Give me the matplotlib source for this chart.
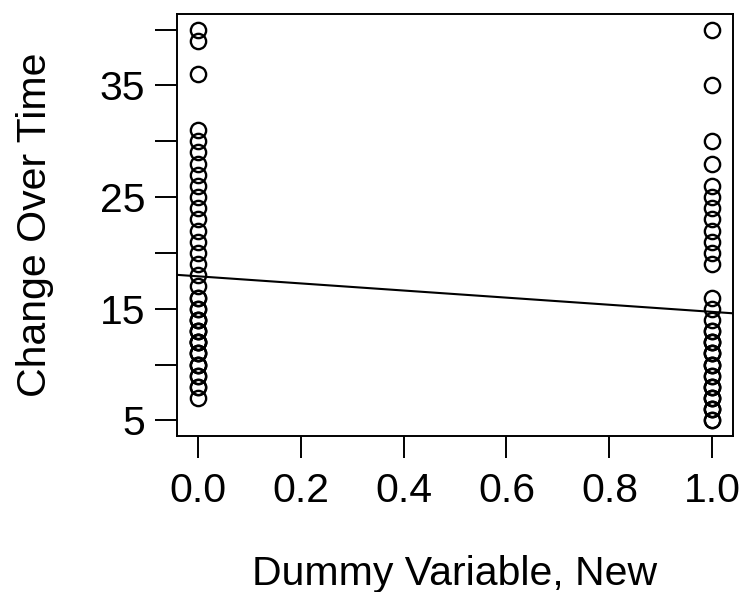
import numpy as np
import matplotlib
matplotlib.use("Agg")
import matplotlib.pyplot as plt

plt.rcParams['font.family'] = ['Liberation Sans', 'DejaVu Sans']

# Data: change over time for dummy = 0 and dummy = 1 (duplicates overlap)
group0_values = [40, 39, 36, 31, 30, 29, 28, 27, 26, 25, 24, 23, 22, 21, 20, 19,
                 18, 17, 16, 15, 14, 13, 12, 11, 10, 9, 8, 7,
                 8, 9, 10, 10, 11, 11, 12, 12, 13, 13, 14, 14, 15, 16, 12]
group1_values = [40, 35, 30, 28, 26, 25, 24, 23, 22, 21, 20, 19,
                 16, 15, 14, 13, 12, 11, 10, 9, 8, 7, 6, 5,
                 5, 6, 6, 7, 7, 8, 8, 9, 10, 10, 11, 11, 12, 12, 13]
dummy_levels = [0, 1]
x_ticks = [0.0, 0.2, 0.4, 0.6, 0.8, 1.0]
y_ticks = [5, 10, 15, 20, 25, 30, 35, 40]
y_ticklabels = ['5', '', '15', '', '25', '', '35', '']

x = np.array([dummy_levels[0]] * len(group0_values) + [dummy_levels[1]] * len(group1_values), dtype=float)
y = np.array(group0_values + group1_values, dtype=float)

fig = plt.figure(figsize=(7.41, 5.92), dpi=100)
ax = fig.add_axes([177 / 741, 1 - 436 / 592, (733 - 177) / 741, (436 - 14) / 592])

ax.plot(x, y, linestyle='none', marker='o', markersize=11, markerfacecolor='none',
        markeredgecolor='black', markeredgewidth=1.7)

slope, intercept = np.polyfit(x, y, 1)
xl = (-0.04, 1.04)
ax.set_xlim(*xl)
yr = (min(y), max(y))
pad = 0.04 * (yr[1] - yr[0])
ax.set_ylim(yr[0] - pad, yr[1] + pad)
xs = np.array(xl)
ax.plot(xs, intercept + slope * xs, color='black', linewidth=1.5)

ax.set_xticks(x_ticks)
ax.set_xticklabels([f"{t:.1f}" for t in x_ticks])
ax.set_yticks(y_ticks)
ax.set_yticklabels(y_ticklabels)
ax.tick_params(axis='both', labelsize=29.5, length=16, width=1.4, color='black')
ax.tick_params(axis='x', pad=10)
ax.tick_params(axis='y', pad=7)
for s in ax.spines.values():
    s.set_linewidth(1.4)

ax.set_xlabel("Dummy Variable, New", fontsize=29.5, labelpad=32)
ax.set_ylabel("Change Over Time", fontsize=29.5, labelpad=33)

fig.savefig("out.png", dpi=100)
